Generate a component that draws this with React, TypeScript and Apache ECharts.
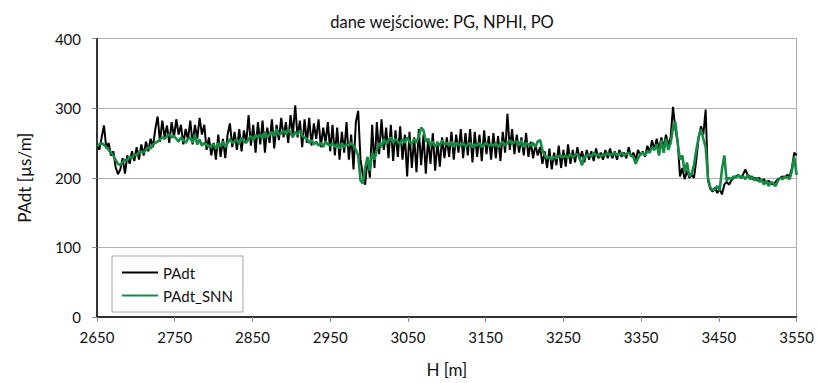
import React, { useEffect, useRef } from "react";
import * as echarts from "echarts";

const START_DEPTH = 2650;
const STEP = 3;

const padt: number[] = [
  248, 240, 258, 275, 242, 250, 232, 238, 215, 205,
  212, 228, 206, 232, 220, 238, 224, 244, 226, 248,
  232, 252, 238, 256, 244, 270, 288, 252, 282, 258,
  275, 250, 280, 258, 284, 262, 276, 248, 270, 255,
  282, 248, 276, 256, 286, 262, 276, 240, 258, 232,
  250, 226, 262, 230, 256, 228, 262, 278, 244, 266,
  240, 270, 238, 268, 250, 290, 246, 276, 236, 280,
  248, 282, 236, 272, 250, 284, 242, 276, 254, 286,
  258, 280, 250, 290, 262, 304, 258, 282, 244, 284,
  250, 286, 246, 278, 256, 284, 244, 272, 250, 280,
  238, 276, 232, 272, 226, 266, 236, 280, 226, 262,
  212, 280, 296, 226, 204, 190, 228, 200, 276, 214,
  280, 234, 284, 240, 272, 228, 276, 224, 268, 230,
  274, 226, 262, 202, 266, 214, 258, 208, 270, 218,
  262, 206, 256, 220, 264, 210, 252, 216, 258, 228,
  258, 230, 266, 226, 262, 236, 270, 228, 264, 232,
  270, 222, 266, 230, 262, 224, 268, 234, 260, 226,
  264, 228, 260, 224, 266, 236, 292, 240, 270, 234,
  262, 236, 258, 232, 264, 230, 252, 228, 248, 232,
  244, 220, 238, 214, 242, 212, 236, 218, 246, 214,
  240, 216, 248, 220, 240, 222, 244, 226, 238, 222,
  240, 226, 238, 224, 242, 228, 236, 226, 240, 228,
  242, 228, 238, 226, 240, 230, 236, 228, 244, 230,
  236, 226, 240, 232, 238, 230, 246, 236, 254, 240,
  256, 240, 258, 244, 262, 246, 258, 302, 270, 252,
  202, 214, 198, 210, 200, 204, 200, 226, 258, 274,
  262, 298, 196, 184, 180, 186, 178, 184, 176, 190,
  194, 190, 196, 200, 202, 204, 200, 204, 212, 204,
  202, 198, 200, 196, 200, 194, 198, 192, 196, 192,
  190, 194, 198, 200, 202, 200, 204, 202, 214, 236,
  232,
];

const padtSnn: number[] = [
  245, 248, 250, 247, 244, 240, 236, 232, 225, 220,
  218, 222, 226, 225, 230, 228, 234, 232, 236, 238,
  236, 240, 244, 242, 248, 250, 252, 255, 258, 256,
  260, 262, 258, 260, 256, 252, 258, 254, 250, 256,
  258, 250, 262, 248, 255, 246, 250, 248, 244, 246,
  248, 242, 250, 245, 252, 244, 250, 256, 250, 252,
  255, 248, 258, 252, 250, 256, 260, 254, 262, 258,
  262, 256, 266, 258, 262, 266, 260, 270, 262, 264,
  268, 262, 270, 264, 258, 266, 262, 268, 260, 258,
  256, 250, 254, 248, 252, 246, 250, 244, 252, 248,
  246, 250, 244, 248, 242, 250, 244, 248, 246, 250,
  246, 240, 232, 196, 192, 214, 230, 210, 236, 226,
  240, 250, 244, 256, 248, 254, 258, 250, 256, 252,
  248, 256, 250, 258, 252, 248, 256, 250, 260, 272,
  268, 252, 256, 246, 252, 244, 250, 246, 254, 248,
  250, 246, 252, 244, 250, 248, 246, 250, 244, 248,
  250, 244, 248, 246, 250, 244, 248, 250, 246, 248,
  246, 250, 244, 248, 252, 246, 250, 254, 248, 252,
  252, 246, 254, 244, 250, 248, 246, 250, 244, 252,
  254, 240, 232, 228, 230, 226, 230, 228, 232, 230,
  230, 232, 228, 234, 230, 232, 234, 228, 218, 230,
  232, 234, 230, 236, 232, 234, 230, 234, 232, 236,
  232, 234, 236, 232, 234, 236, 232, 234, 236, 232,
  230, 220, 228, 234, 236, 232, 238, 236, 244, 240,
  248, 232, 254, 236, 256, 240, 250, 272, 280, 250,
  226, 232, 208, 222, 202, 206, 218, 240, 258, 270,
  256, 244, 200, 186, 182, 184, 188, 182, 212, 232,
  196, 200, 198, 202, 200, 204, 200, 202, 198, 204,
  198, 202, 196, 200, 194, 198, 190, 196, 188, 194,
  192, 188, 196, 200, 198, 202, 200, 198, 210, 230,
  204,
];

const X_TICKS = { min: 2650, max: 3550, interval: 100 };
const Y_TICKS = { min: 0, max: 400, interval: 100 };

const FONT = "Lato, 'Open Sans', sans-serif";

export default function App() {
  const ref = useRef<HTMLDivElement>(null);
  useEffect(() => {
    if (!ref.current) return;
    const chart = echarts.init(ref.current, undefined, { renderer: "svg" });
    const toPairs = (arr: number[]) => arr.map((v, i) => [START_DEPTH + i * STEP, v]);
    chart.setOption({
      animation: false,
      backgroundColor: "#fff",
      textStyle: { fontFamily: FONT },
      title: {
        text: "dane wejściowe: PG, NPHI, PO",
        left: 437,
        top: 8,
        textAlign: "center",
        textStyle: { fontFamily: FONT, fontSize: 16.5, fontWeight: "normal", color: "#111" },
      },
      grid: {
        left: 97,
        right: 20,
        top: 38.5,
        bottom: 64.5,
        show: true,
        borderColor: "#a6a6a6",
        borderWidth: 1,
      },
      legend: {
        orient: "vertical",
        left: 112,
        top: 256,
        padding: [9, 10, 9, 10],
        borderColor: "#a6a6a6",
        borderWidth: 1,
        backgroundColor: "#fff",
        itemWidth: 36,
        itemHeight: 2,
        itemGap: 8,
        textStyle: { fontFamily: FONT, fontSize: 15, lineHeight: 14, color: "#111" },
        data: [
          { name: "PAdt", icon: "rect", itemStyle: { color: "#000" } },
          { name: "PAdt_SNN", icon: "rect", itemStyle: { color: "#178a43" } },
        ],
      },
      xAxis: {
        type: "value",
        min: X_TICKS.min,
        max: X_TICKS.max,
        interval: X_TICKS.interval,
        name: "H [m]",
        nameLocation: "middle",
        nameGap: 44,
        nameTextStyle: { fontFamily: FONT, fontSize: 17, color: "#111" },
        axisLine: { show: true, lineStyle: { color: "#000", width: 1.5 } },
        axisTick: { show: true, length: 5, lineStyle: { color: "#888" } },
        axisLabel: {
          fontFamily: FONT,
          fontSize: 15,
          color: "#111",
          margin: 12,
          formatter: (v: number) => String(v),
        },
        splitLine: { show: false },
      },
      yAxis: {
        type: "value",
        min: Y_TICKS.min,
        max: Y_TICKS.max,
        interval: Y_TICKS.interval,
        name: "PAdt [µs/m]",
        nameLocation: "middle",
        nameGap: 64,
        nameTextStyle: { fontFamily: FONT, fontSize: 17, color: "#111" },
        axisLine: { show: true, lineStyle: { color: "#000", width: 1.5 } },
        axisTick: { show: true, length: 5, lineStyle: { color: "#888" } },
        axisLabel: { fontFamily: FONT, fontSize: 15, color: "#111", margin: 16 },
        splitLine: { show: true, lineStyle: { color: "#b0b0b0", width: 1 } },
      },
      series: [
        {
          name: "PAdt",
          type: "line",
          data: toPairs(padt),
          symbol: "none",
          lineStyle: { color: "#000", width: 2 },
          itemStyle: { color: "#000" },
          z: 2,
        },
        {
          name: "PAdt_SNN",
          type: "line",
          data: toPairs(padtSnn),
          symbol: "none",
          lineStyle: { color: "#178a43", width: 2.6 },
          itemStyle: { color: "#178a43" },
          z: 3,
        },
      ],
    });
    return () => chart.dispose();
  }, []);
  return (
    <div
      ref={ref}
      style={{ position: "fixed", left: 0, top: 0, width: 817, height: 383 }}
    />
  );
}
